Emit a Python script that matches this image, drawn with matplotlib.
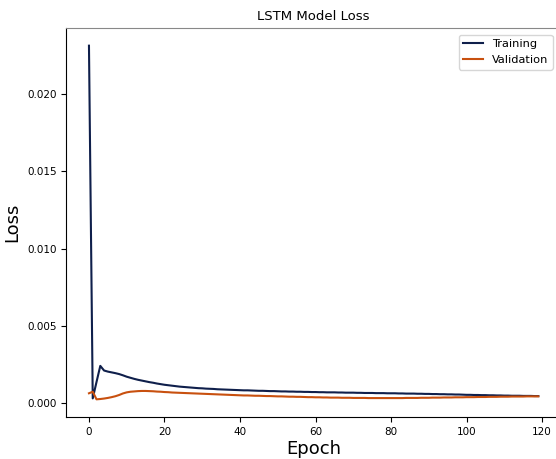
import numpy as np
import matplotlib
matplotlib.use("Agg")
import matplotlib.pyplot as plt

# loss values, one per epoch (0..119)
train_loss = [
    0.02310, 0.00032, 0.00138, 0.00242, 0.00212, 0.00205, 0.00200, 0.00195, 0.00189, 0.00181,
    0.00172, 0.00165, 0.00158, 0.00152, 0.00147, 0.00142, 0.00137, 0.00133, 0.00128, 0.00124,
    0.00120, 0.00117, 0.00114, 0.00111, 0.00108, 0.00106, 0.00104, 0.00102, 0.00100, 0.00098,
    0.00097, 0.00095, 0.00094, 0.00093, 0.00091, 0.00090, 0.00089, 0.00088, 0.00087, 0.00086,
    0.00085, 0.00084, 0.00084, 0.00083, 0.00082, 0.00081, 0.00081, 0.00080, 0.00079, 0.00079,
    0.00078, 0.00077, 0.00077, 0.00076, 0.00076, 0.00075, 0.00075, 0.00074, 0.00074, 0.00073,
    0.00073, 0.00072, 0.00072, 0.00071, 0.00071, 0.00071, 0.00070, 0.00070, 0.00069, 0.00069,
    0.00069, 0.00068, 0.00068, 0.00067, 0.00067, 0.00067, 0.00066, 0.00066, 0.00066, 0.00065,
    0.00065, 0.00065, 0.00064, 0.00064, 0.00063, 0.00063, 0.00063, 0.00062, 0.00062, 0.00061,
    0.00061, 0.00060, 0.00060, 0.00059, 0.00059, 0.00058, 0.00058, 0.00057, 0.00057, 0.00056,
    0.00055, 0.00055, 0.00054, 0.00054, 0.00053, 0.00053, 0.00052, 0.00052, 0.00051, 0.00051,
    0.00050, 0.00050, 0.00049, 0.00049, 0.00049, 0.00048, 0.00048, 0.00048, 0.00047, 0.00047,
]
val_loss = [
    0.00065, 0.00075, 0.00026, 0.00028, 0.00031, 0.00035, 0.00040, 0.00046, 0.00054, 0.00064,
    0.00071, 0.00075, 0.00077, 0.00079, 0.00080, 0.00080, 0.00079, 0.00078, 0.00076, 0.00075,
    0.00073, 0.00072, 0.00070, 0.00069, 0.00068, 0.00067, 0.00066, 0.00065, 0.00064, 0.00063,
    0.00062, 0.00061, 0.00060, 0.00059, 0.00058, 0.00057, 0.00056, 0.00055, 0.00054, 0.00053,
    0.00052, 0.00051, 0.00051, 0.00050, 0.00049, 0.00049, 0.00048, 0.00047, 0.00047, 0.00046,
    0.00045, 0.00045, 0.00044, 0.00043, 0.00043, 0.00042, 0.00042, 0.00041, 0.00040, 0.00040,
    0.00039, 0.00039, 0.00038, 0.00038, 0.00037, 0.00037, 0.00037, 0.00036, 0.00036, 0.00036,
    0.00035, 0.00035, 0.00035, 0.00035, 0.00034, 0.00034, 0.00034, 0.00034, 0.00034, 0.00034,
    0.00034, 0.00034, 0.00034, 0.00034, 0.00035, 0.00035, 0.00035, 0.00035, 0.00036, 0.00036,
    0.00036, 0.00037, 0.00037, 0.00037, 0.00038, 0.00038, 0.00038, 0.00039, 0.00039, 0.00039,
    0.00040, 0.00040, 0.00040, 0.00041, 0.00041, 0.00041, 0.00042, 0.00042, 0.00042, 0.00043,
    0.00043, 0.00043, 0.00044, 0.00044, 0.00044, 0.00044, 0.00045, 0.00045, 0.00045, 0.00045,
]
epochs = np.arange(len(train_loss))

fig = plt.figure(figsize=(5.56, 4.59), dpi=100)
ax = fig.add_axes([0.1196, 0.0915, 0.889, 0.8475])

ax.plot(epochs, train_loss, color='#0f1f4b', lw=1.5, label='Training')
ax.plot(epochs, val_loss, color='#c8500f', lw=1.5, label='Validation')

ax.set_title("LSTM Model Loss", fontsize=9.5)
ax.set_xlabel("Epoch", fontsize=13, labelpad=2)
ax.set_ylabel("Loss", fontsize=13, labelpad=4)
ax.set_xticks([0, 20, 40, 60, 80, 100, 120])
ax.set_yticks([0.000, 0.005, 0.010, 0.015, 0.020])
ax.tick_params(labelsize=7.5)
ax.spines['top'].set_color('#888888')

ax.legend(loc='upper right', bbox_to_anchor=(0.994, 0.924),
          bbox_transform=fig.transFigure, borderaxespad=0, fontsize=8.2,
          handlelength=1.7)

plt.savefig('out.png', dpi=100)
